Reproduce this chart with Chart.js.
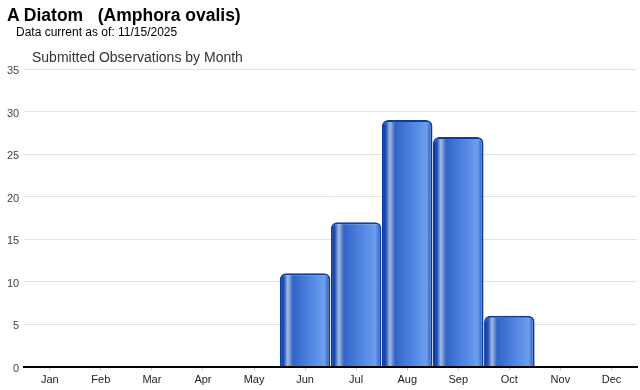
<!DOCTYPE html>
<html>
<head>
<meta charset="utf-8">
<script src="https://cdn.jsdelivr.net/npm/chart.js@4"></script>
<style>
    body { margin: 0; background: #fff; }
    #wrap { position: relative; width: 640px; height: 390px; font-family: "Liberation Sans", Arial, sans-serif; }
    #species { position: absolute; left: 7px; top: 5px; font-size: 17.5px; font-weight: bold; color: #000; white-space: pre; }
    #current { position: absolute; left: 16px; top: 25px; font-size: 12px; color: #000; }
    #subtitle { position: absolute; left: 32px; top: 49px; font-size: 14px; color: #333; }
    #obs-chart { position: absolute; left: 0; top: 0; }
</style>
</head>
<body>
<div id="wrap">
    <canvas id="obs-chart" width="640" height="390"></canvas>
    <div id="species">A Diatom   (Amphora ovalis)</div>
    <div id="current">Data current as of: 11/15/2025</div>
    <div id="subtitle">Submitted Observations by Month</div>
</div>
<script>
const months = ["Jan", "Feb", "Mar", "Apr", "May", "Jun", "Jul", "Aug", "Sep", "Oct", "Nov", "Dec"];
const observations = [0, 0, 0, 0, 0, 11, 17, 29, 27, 6, 0, 0];
const yTicks = [0, 5, 10, 15, 20, 25, 30, 35];

const obsChartCanvas = document.querySelector("#obs-chart");

// horizontal "cylinder" shading for each bar
function barGradient(context) {
    const chart = context.chart;
    if (!chart.chartArea) return "#3b6fd6";
    const xScale = chart.scales.x;
    const center = xScale.getPixelForValue(context.dataIndex);
    const half = xScale.width / months.length / 2;
    const g = chart.ctx.createLinearGradient(center - half, 0, center + half, 0);
    g.addColorStop(0.0, "#0a3791");
    g.addColorStop(0.08, "#1c4fb2");
    g.addColorStop(0.16, "#a6bce2");
    g.addColorStop(0.26, "#3264c6");
    g.addColorStop(0.55, "#4c80dd");
    g.addColorStop(0.88, "#6c9df0");
    g.addColorStop(1.0, "#1a4aab");
    return g;
}

const obsChart = new Chart(obsChartCanvas, {
    type: 'bar',
    data: {
        labels: months,
        datasets: [{
            label: 'Observations',
            data: observations,
            backgroundColor: barGradient,
            borderColor: "#0c3c9e",
            borderWidth: 2,
            borderRadius: 6,
            borderSkipped: 'bottom',
            barPercentage: 0.99,
            categoryPercentage: 1.0,
        }]
    },
    options: {
        responsive: false,
        animation: false,
        layout: { padding: { top: 69, right: 3, left: 2, bottom: 0 } },
        plugins: {
            legend: { display: false },
            title: { display: false },
            tooltip: { enabled: false }
        },
        scales: {
            x: {
                grid: { offset: false, drawOnChartArea: false, drawTicks: true, tickLength: 4, color: "#d0d0d0" },
                border: { display: true, color: "#000000", width: 2 },
                ticks: { color: "#222", font: { family: "'Liberation Sans', Arial, sans-serif", size: 11 }, padding: 3 }
            },
            y: {
                min: 0,
                max: yTicks[yTicks.length - 1],
                afterBuildTicks: function (axis) {
                    axis.ticks = yTicks.map(v => ({ value: v }));
                },
                grid: { color: "#e3e3e3", drawTicks: false },
                border: { display: false },
                ticks: { color: "#444", font: { family: "'Liberation Sans', Arial, sans-serif", size: 11 }, padding: 5, labelOffset: 2 }
            }
        }
    }
});
</script>
</body>
</html>
